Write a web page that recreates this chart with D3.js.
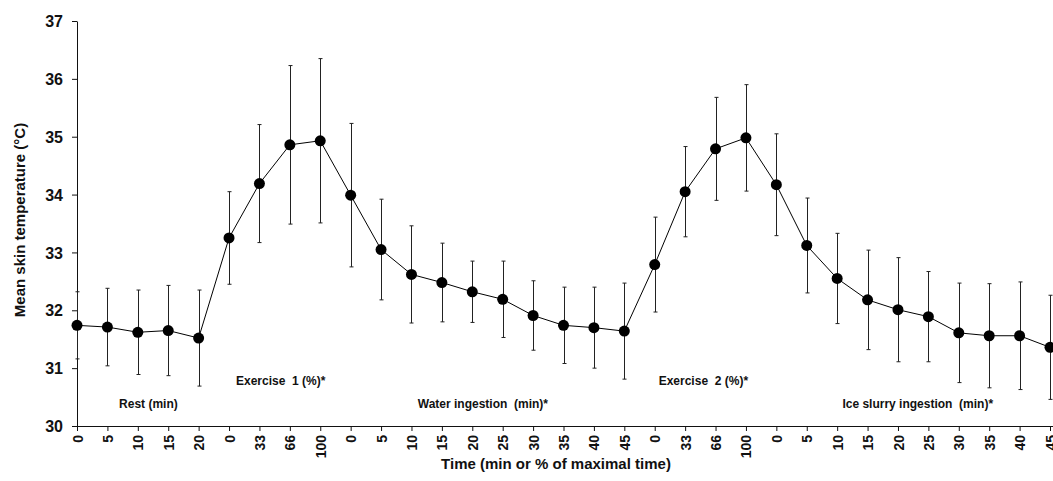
<!DOCTYPE html>
<html>
<head>
<meta charset="utf-8">
<script src="https://cdn.jsdelivr.net/npm/d3@7"></script>
<style>
  body { margin: 0; background: #fff; }
  svg { display: block; font-family: "Liberation Sans", Arial, sans-serif; }
  text { font-weight: bold; fill: #111; }
</style>
</head>
<body>
<svg id="chart" width="1053" height="481"></svg>
<script>
// x tick labels, one per measurement
var tickLabels = ['0','5','10','15','20',
                  '0','33','66','100',
                  '0','5','10','15','20','25','30','35','40','45',
                  '0','33','66','100',
                  '0','5','10','15','20','25','30','35','40','45'];

// mean skin temperature (°C)
var meanTemp = [31.74, 31.71, 31.62, 31.65, 31.52,
                33.25, 34.19, 34.86, 34.93,
                33.99, 33.05, 32.62, 32.48, 32.32, 32.19, 31.91, 31.74, 31.70, 31.64,
                32.79, 34.05, 34.79, 34.98,
                34.17, 33.12, 32.55, 32.18, 32.01, 31.89, 31.61, 31.56, 31.56, 31.36];

// standard deviation
var sdTemp = [0.58, 0.67, 0.73, 0.78, 0.83,
              0.80, 1.02, 1.37, 1.42,
              1.24, 0.87, 0.84, 0.68, 0.53, 0.66, 0.60, 0.66, 0.70, 0.83,
              0.82, 0.78, 0.89, 0.92,
              0.88, 0.82, 0.78, 0.86, 0.90, 0.78, 0.86, 0.90, 0.93, 0.90];

// phase labels: text, centre index, row (0 = upper, 1 = lower)
var phaseNames = ['Rest (min)', 'Exercise  1 (%)*', 'Water ingestion  (min)*', 'Exercise  2 (%)*', 'Ice slurry ingestion  (min)*'];
var phaseCentre = [2.35, 6.7, 13.35, 20.6, 27.65];
var phaseRow = [1, 0, 1, 0, 1];

var yTicks = [30, 31, 32, 33, 34, 35, 36, 37];

var svg = d3.select('#chart');
var plotLeft = 77, plotRight = 1050, plotTop = 21, plotBottom = 426;

var x = d3.scaleLinear().domain([0, tickLabels.length - 1]).range([plotLeft, plotRight]);
var y = d3.scaleLinear().domain([30, 37]).range([plotBottom, plotTop]);

// y axis
var yAxis = svg.append('g')
    .attr('transform', 'translate(' + plotLeft + ',0)')
    .call(d3.axisLeft(y).tickValues(yTicks).tickFormat(d3.format('d'))
        .tickSize(5).tickSizeOuter(0).tickPadding(9));
yAxis.selectAll('text').style('font-size', '16px').attr('dy', '0.35em');

// x axis
var xAxis = svg.append('g')
    .attr('transform', 'translate(0,' + plotBottom + ')')
    .call(d3.axisBottom(x).tickValues(d3.range(tickLabels.length))
        .tickFormat(function(i) { return tickLabels[i]; })
        .tickSize(5).tickSizeOuter(0));
xAxis.select('.domain').attr('d', 'M' + plotLeft + ',0.5H1053');
xAxis.selectAll('text')
    .style('font-size', '14px')
    .attr('text-anchor', 'end')
    .attr('transform', 'rotate(-90)')
    .attr('x', -9)
    .attr('y', 0)
    .attr('dy', '0.36em');

svg.selectAll('.domain, .tick line').attr('stroke', '#111');

// error bars
var eb = svg.append('g').attr('stroke', '#222').attr('stroke-width', 1);
meanTemp.forEach(function(m, i) {
    var cx = Math.round(x(i)) + 0.5;
    var hi = y(m + sdTemp[i]), lo = y(m - sdTemp[i]);
    eb.append('line').attr('x1', cx).attr('x2', cx).attr('y1', hi).attr('y2', lo);
    eb.append('line').attr('x1', cx - 2).attr('x2', cx + 2).attr('y1', hi).attr('y2', hi);
    eb.append('line').attr('x1', cx - 2).attr('x2', cx + 2).attr('y1', lo).attr('y2', lo);
});

// mean line
var line = d3.line()
    .x(function(d, i) { return x(i); })
    .y(function(d) { return y(d); });
svg.append('path')
    .datum(meanTemp)
    .attr('d', line)
    .attr('fill', 'none')
    .attr('stroke', '#000')
    .attr('stroke-width', 1);

svg.selectAll('circle.pt')
    .data(meanTemp).enter().append('circle')
    .attr('class', 'pt')
    .attr('cx', function(d, i) { return x(i); })
    .attr('cy', function(d) { return y(d); })
    .attr('r', 5.5)
    .attr('fill', '#000');

// phase labels
svg.selectAll('text.phase')
    .data(phaseNames).enter().append('text')
    .attr('class', 'phase')
    .attr('x', function(d, i) { return x(phaseCentre[i]); })
    .attr('y', function(d, i) { return phaseRow[i] ? 408 : 385; })
    .attr('text-anchor', 'middle')
    .style('font-size', '12px')
    .style('white-space', 'pre')
    .text(function(d) { return d; });

// axis titles
svg.append('text')
    .attr('x', 556)
    .attr('y', 469)
    .attr('text-anchor', 'middle')
    .style('font-size', '15px')
    .text('Time (min or % of maximal time)');

svg.append('text')
    .attr('transform', 'translate(25,220) rotate(-90)')
    .attr('text-anchor', 'middle')
    .style('font-size', '15px')
    .text('Mean skin temperature (°C)');
</script>
</body>
</html>
